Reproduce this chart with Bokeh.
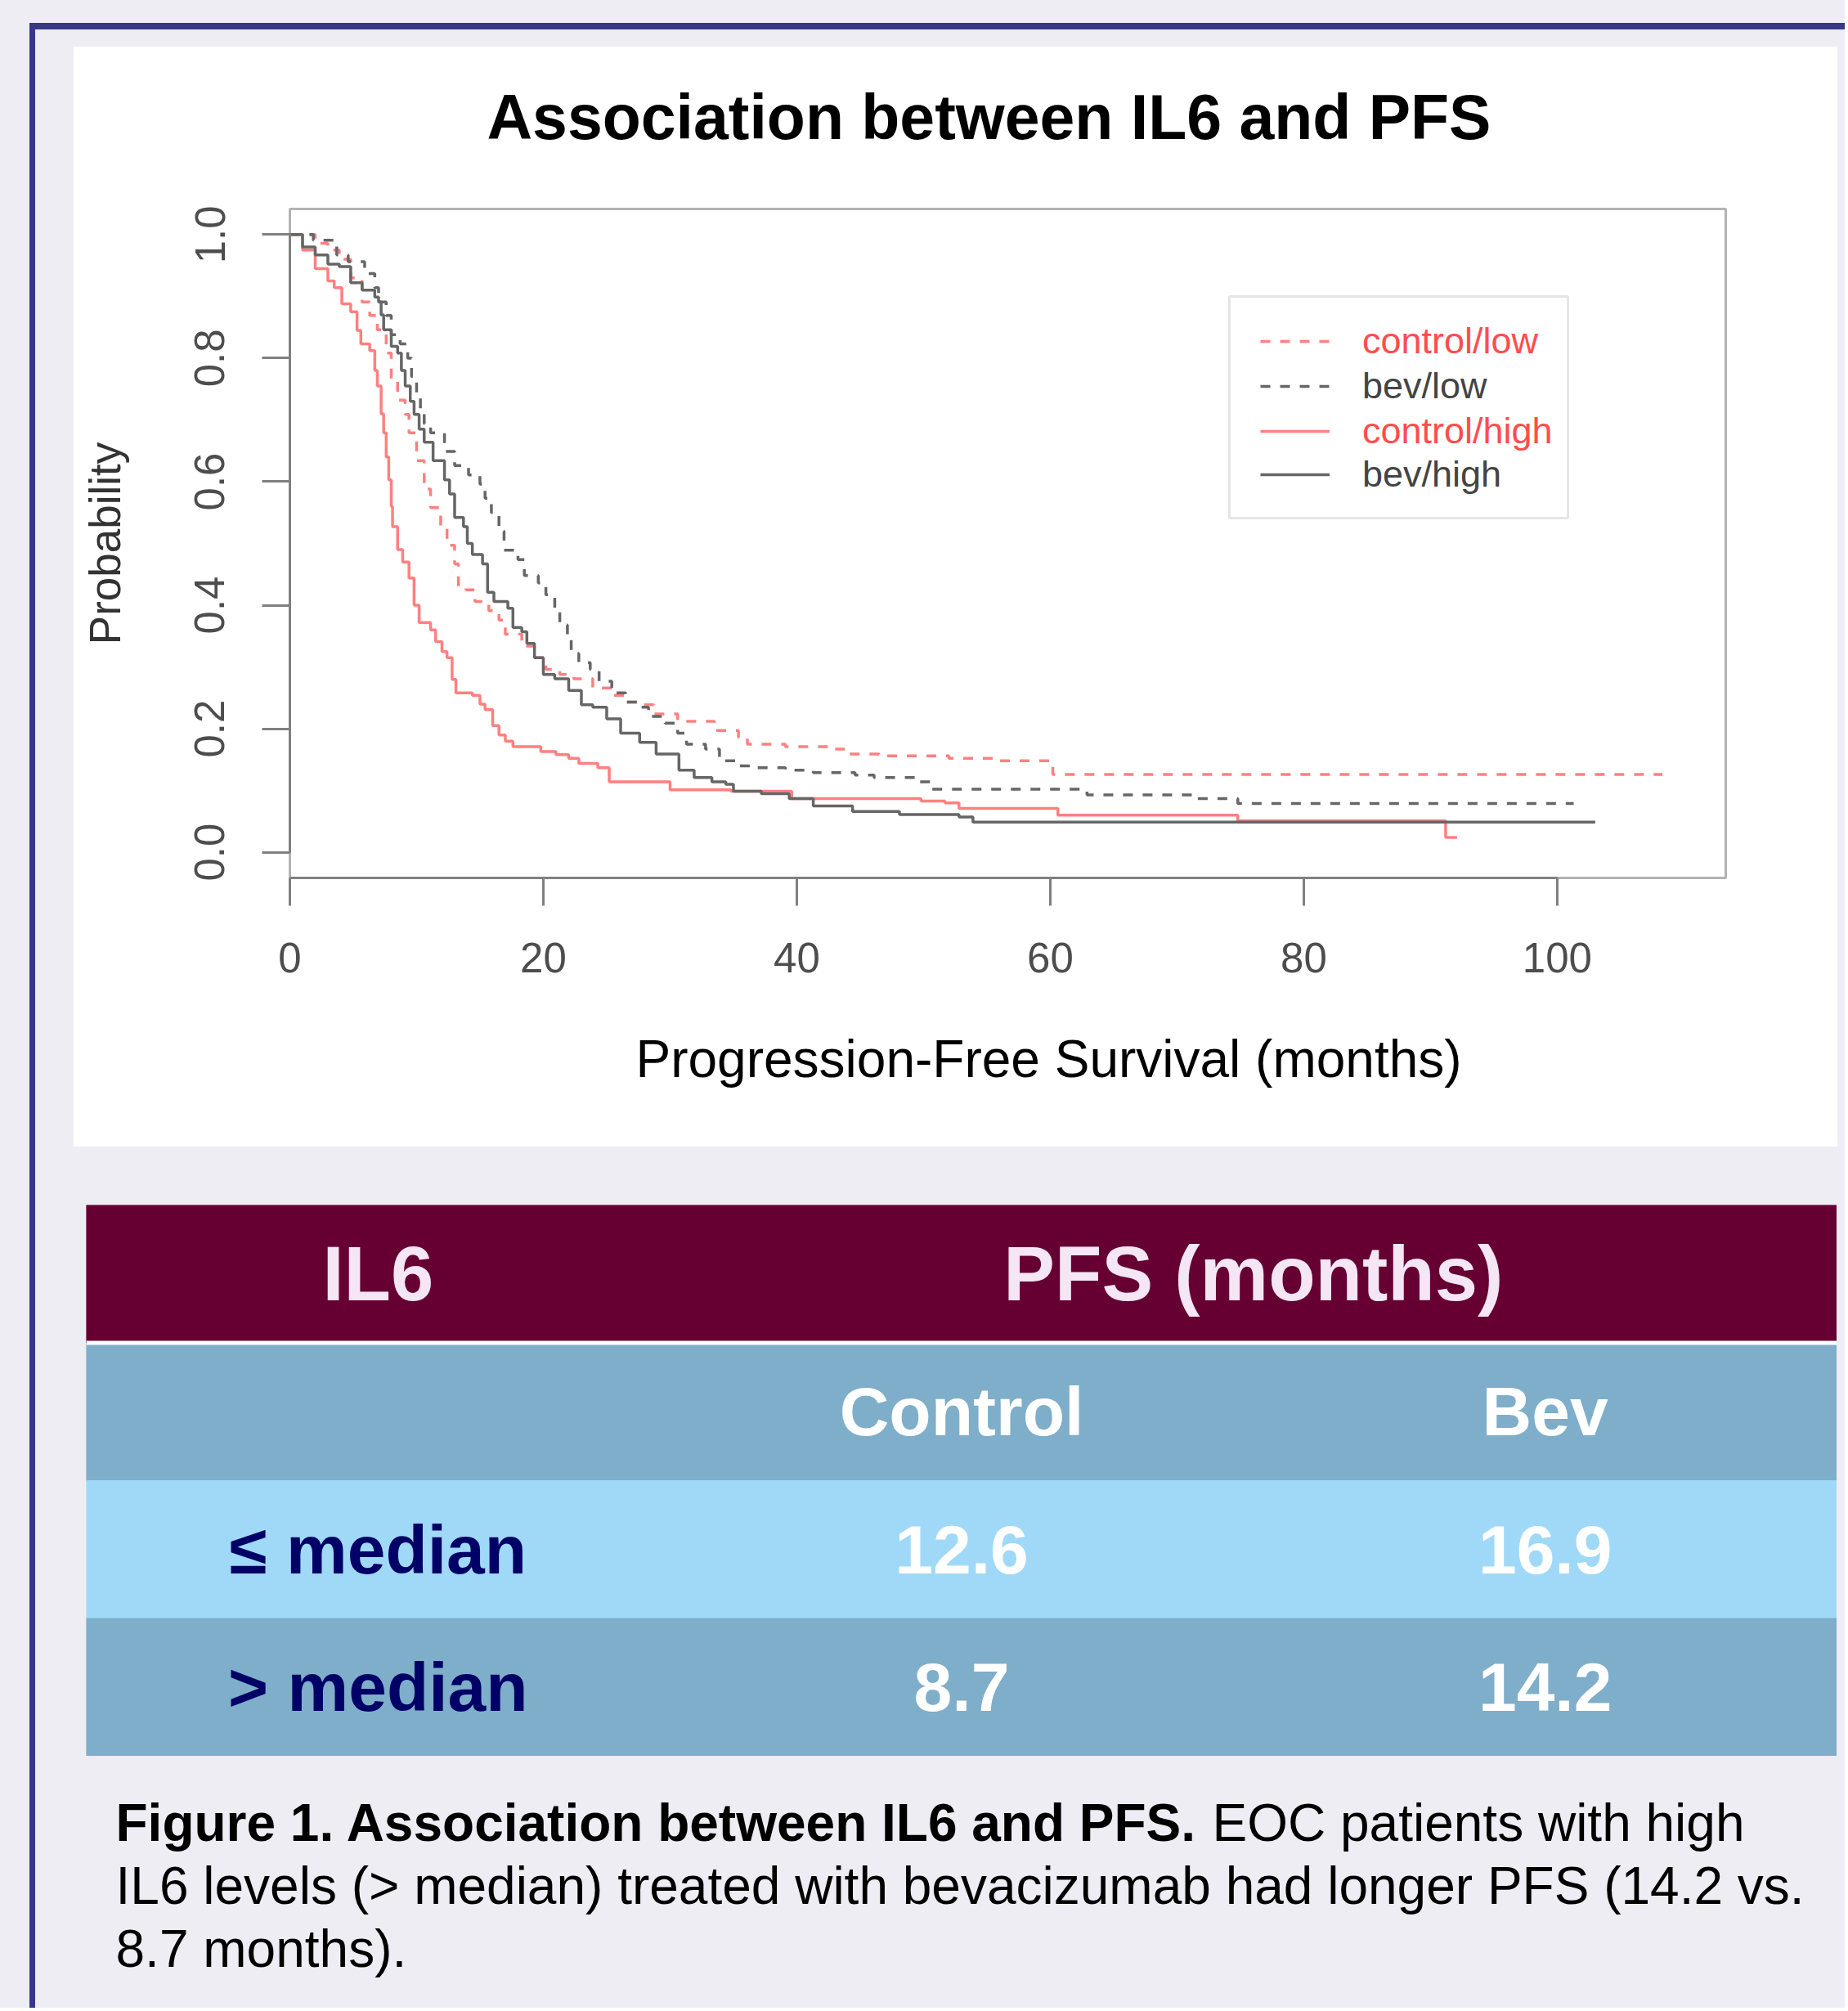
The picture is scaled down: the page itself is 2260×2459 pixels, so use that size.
from bokeh.plotting import figure
from bokeh.models import (Range1d, FixedTicker, Legend, LegendItem, BoxAnnotation, Title,
                          Spacer, ColumnDataSource, NumeralTickFormatter)
from bokeh.layouts import column, row
from bokeh.embed import file_html
from bokeh.resources import INLINE
from bokeh.core.properties import value

# ------------------------------------------------------------------ data
title_text = "Association between IL6 and PFS"
x_label = "Progression-Free Survival (months)"
y_label = "Probability"
x_ticks = [0, 20, 40, 60, 80, 100]
y_ticks = [0.0, 0.2, 0.4, 0.6, 0.8, 1.0]

series_names = ["control/low", "bev/low", "control/high", "bev/high"]

control_low_t = [0, 2.0, 3.0, 3.9, 4.8, 5.7, 6.3, 6.9, 7.6, 8.0, 8.5, 9.1, 9.4, 10.0, 10.6,
                 11.1, 11.9, 12.4, 13.0, 13.3, 13.9, 14.6, 15.7, 16.5, 17.0, 18.3, 19.3,
                 20.2, 21.3, 22.4, 23.9, 25.4, 26.5, 27.6, 28.7, 30.6, 33.5, 35.4, 36.1,
                 39.1, 42.8, 43.9, 46.5, 52.0, 55.7, 60.2, 108.3]
control_low_s = [1.0, 0.986, 0.975, 0.960, 0.930, 0.891, 0.869, 0.846, 0.808, 0.762, 0.732,
                 0.709, 0.679, 0.634, 0.588, 0.558, 0.527, 0.497, 0.467, 0.429, 0.425, 0.406,
                 0.391, 0.376, 0.353, 0.334, 0.315, 0.296, 0.288, 0.281, 0.266, 0.254, 0.243,
                 0.239, 0.224, 0.212, 0.197, 0.186, 0.175, 0.171, 0.167, 0.159, 0.156, 0.152,
                 0.148, 0.126, 0.126]

bev_low_t = [0, 1.85, 3.7, 4.6, 5.9, 6.7, 7.0, 7.6, 8.0, 8.7, 9.3, 9.6, 10.0, 10.3, 10.6,
             11.1, 12.2, 13.0, 14.1, 15.0, 15.4, 15.9, 16.5, 16.9, 18.0, 18.5, 19.6, 20.2,
             20.9, 21.3, 21.9, 22.2, 22.8, 23.7, 24.4, 25.4, 26.5, 27.6, 28.3, 29.6, 30.6,
             31.3, 32.8, 33.9, 35.4, 36.9, 39.1, 41.3, 44.6, 46.1, 49.4, 50.6, 62.9, 71.3,
             74.8, 101.3]
bev_low_s = [1.0, 0.991, 0.967, 0.956, 0.937, 0.914, 0.891, 0.869, 0.838, 0.823, 0.800,
             0.770, 0.740, 0.715, 0.694, 0.679, 0.649, 0.626, 0.611, 0.596, 0.573, 0.550,
             0.520, 0.489, 0.474, 0.448, 0.436, 0.417, 0.391, 0.368, 0.345, 0.322, 0.307,
             0.296, 0.277, 0.258, 0.243, 0.235, 0.220, 0.209, 0.193, 0.175, 0.167, 0.148,
             0.140, 0.137, 0.133, 0.129, 0.125, 0.121, 0.114, 0.102, 0.093, 0.087, 0.079,
             0.079]

control_high_t = [0, 1.0, 2.0, 3.0, 3.5, 4.1, 4.8, 5.3, 5.6, 6.3, 6.7, 6.9, 7.2, 7.4, 7.6,
                  7.8, 8.0, 8.1, 8.5, 8.9, 9.4, 9.8, 10.2, 11.1, 11.5, 12.0, 12.4, 12.8,
                  13.1, 14.4, 15.0, 15.4, 16.0, 16.5, 17.0, 17.6, 19.8, 21.0, 22.0, 22.8,
                  24.3, 25.2, 30.0, 34.8, 39.6, 49.8, 51.7, 52.8, 60.6, 74.8, 91.2, 92.1]
control_high_s = [1.0, 0.975, 0.945, 0.925, 0.914, 0.888, 0.875, 0.845, 0.823, 0.812, 0.780,
                  0.755, 0.710, 0.679, 0.640, 0.603, 0.560, 0.527, 0.490, 0.470, 0.444,
                  0.400, 0.372, 0.360, 0.341, 0.325, 0.315, 0.280, 0.258, 0.254, 0.240,
                  0.231, 0.205, 0.190, 0.180, 0.171, 0.163, 0.158, 0.152, 0.144, 0.137,
                  0.114, 0.101, 0.099, 0.087, 0.083, 0.080, 0.071, 0.060, 0.051, 0.024, 0.024]

bev_high_t = [0, 1.0, 2.0, 3.0, 3.9, 4.8, 5.7, 6.7, 7.0, 7.2, 7.4, 8.0, 8.5, 8.8, 9.1, 9.5,
              9.8, 10.2, 10.6, 11.3, 12.2, 12.6, 13.0, 13.7, 14.0, 14.4, 15.2, 15.6, 16.1,
              17.2, 17.6, 18.3, 18.7, 19.3, 20.0, 20.9, 22.0, 23.0, 23.9, 25.0, 26.1, 27.6,
              28.9, 30.7, 31.9, 33.3, 34.4, 35.0, 37.2, 39.4, 41.3, 44.4, 48.1, 52.8, 53.9,
              103.0]
bev_high_s = [1.0, 0.980, 0.967, 0.952, 0.948, 0.922, 0.910, 0.899, 0.891, 0.870, 0.846,
              0.819, 0.808, 0.780, 0.755, 0.730, 0.709, 0.685, 0.664, 0.634, 0.603, 0.580,
              0.542, 0.527, 0.500, 0.482, 0.467, 0.421, 0.406, 0.395, 0.364, 0.357, 0.338,
              0.315, 0.288, 0.281, 0.262, 0.239, 0.235, 0.216, 0.193, 0.178, 0.159, 0.133,
              0.121, 0.114, 0.110, 0.099, 0.095, 0.087, 0.075, 0.066, 0.061, 0.057, 0.049,
              0.049]

table_header = ["IL6", "PFS (months)"]
table_groups = ["Control", "Bev"]
table_row_labels = ["\u2264 median", "> median"]
pfs_control = [12.6, 8.7]
pfs_bev = [16.9, 14.2]

caption_bold = "Figure 1. Association between IL6 and PFS."
caption_lines = ["EOC patients with high",
                 "IL6 levels (> median) treated with bevacizumab had longer PFS (14.2 vs.",
                 "8.7 months)."]

# ------------------------------------------------------------------ styles
FONT = "Liberation Sans"
LAV = "#eeedf4"
BLUE = "#383886"
RED_LINE = "#ff8080"
GRAY_LINE = "#666666"
RED_TEXT = "#ff4d4d"
GRAY_TEXT = "#444444"
MAROON = "#660033"
STEEL = "#7eaec9"
LIGHT = "#a0d9f8"
NAVY = "#000066"

PANEL_W = 2157
TITLE_H = 190

# ------------------------------------------------------------------ title strip (white)
# (its frame is aligned with the KM frame below, so the offset is from that frame's left)
tf = figure(width=PANEL_W, height=TITLE_H, output_backend="svg", toolbar_location=None,
            title=Title(text=title_text, align="left", offset=241, standoff=81,
                        text_font=FONT, text_font_size="77px", text_font_style="bold",
                        text_color="black"),
            x_range=Range1d(0, 1), y_range=Range1d(0, 1), min_border=0,
            x_axis_location=None, y_axis_location=None, outline_line_color=None,
            background_fill_color="white", border_fill_color="white")
tf.grid.visible = False

# ------------------------------------------------------------------ KM plot
km = figure(width=PANEL_W, height=1345 - TITLE_H, output_backend="svg",
            toolbar_location=None,
            x_range=Range1d(0, 113.3), y_range=Range1d(-0.0415, 1.0415),
            min_border_left=264, min_border_right=137, min_border_top=198 - TITLE_H,
            min_border_bottom=329, background_fill_color="white",
            border_fill_color="white", outline_line_color="#b3b3b3",
            outline_line_width=3)
km.grid.visible = False

series = [
    (control_low_t, control_low_s, RED_LINE, "12 12", RED_TEXT),
    (bev_low_t, bev_low_s, GRAY_LINE, "12 12", GRAY_TEXT),
    (control_high_t, control_high_s, RED_LINE, "solid", RED_TEXT),
    (bev_high_t, bev_high_s, GRAY_LINE, "solid", GRAY_TEXT),
]
renderers = []
for t, s, col, dash, _ in series:
    src = ColumnDataSource(dict(t=t, s=s))
    r = km.step(x="t", y="s", source=src, mode="after", line_color=col,
                line_width=3.5, line_dash=dash)
    renderers.append(r)

for ax in (km.xaxis[0], km.yaxis[0]):
    ax.axis_line_color = "#808080"
    ax.axis_line_width = 3
    ax.major_tick_line_color = "#808080"
    ax.major_tick_line_width = 3
    ax.major_tick_out = 34
    ax.major_tick_in = 0
    ax.minor_tick_line_color = None
    ax.major_label_text_font = FONT
    ax.major_label_text_font_size = "51px"
    ax.major_label_text_color = "#4d4d4d"

km.xaxis.ticker = FixedTicker(ticks=x_ticks)
km.xaxis.bounds = (0, 100)
km.xaxis.major_label_standoff = 45

km.yaxis.ticker = FixedTicker(ticks=y_ticks)
km.yaxis.bounds = (0, 1)
km.yaxis.formatter = NumeralTickFormatter(format="0.0")
km.yaxis.major_label_orientation = "parallel"
km.yaxis.major_label_standoff = 46
km.yaxis.axis_label = y_label
km.yaxis.axis_label_text_font = FONT
km.yaxis.axis_label_text_font_size = "53px"
km.yaxis.axis_label_text_font_style = "normal"
km.yaxis.axis_label_text_color = "#333333"
km.yaxis.axis_label_standoff = 78

km.add_layout(Title(text=x_label, align="left", offset=423, standoff=134,
                    vertical_align="top", text_font=FONT, text_font_size="64px",
                    text_font_style="normal", text_color="black"), "below")

# legend: frame around + one entry per line (each with its own text colour)
km.add_layout(BoxAnnotation(left=74.13, right=100.85, bottom=0.541, top=0.900,
                            fill_alpha=0, line_color="#aaaaaa", line_width=3))
row_centers = [656, 601, 546, 493]
for i, name in enumerate(series_names):
    leg = Legend(items=[LegendItem(label=name, renderers=[renderers[i]])],
                 location=(1187, row_centers[i] - 28), padding=0, margin=0, spacing=0,
                 glyph_width=85, glyph_height=56, label_height=56, label_standoff=40,
                 label_text_font=FONT, label_text_font_size="45px",
                 label_text_color=series[i][4], border_line_alpha=0,
                 background_fill_alpha=0)
    km.add_layout(leg)

# ------------------------------------------------------------------ table
tb = figure(width=2141, height=674, output_backend="svg", toolbar_location=None,
            x_range=Range1d(0, 3), y_range=Range1d(4, 0), min_border=0,
            x_axis_location=None, y_axis_location=None, outline_line_color=None,
            background_fill_color=LAV, border_fill_color=LAV)
tb.grid.visible = False
band_colors = [MAROON, STEEL, LIGHT, STEEL]
tb.hbar(y=[i + 0.5 for i in range(4)], left=0, right=3, height=1, color=band_colors)
tb.segment(x0=[0], y0=[1], x1=[3], y1=[1], line_color="white", line_width=5)

tb.text(x=[0.5, 2.0], y=[0.5, 0.5], text=table_header, text_font=value(FONT),
        text_font_size=value("94px"), text_font_style="bold", text_color="#f4e6f4",
        text_align="center", text_baseline="middle")
tb.text(x=[1.5, 2.5], y=[1.5, 1.5], text=table_groups, text_font=value(FONT),
        text_font_size=value("84px"), text_font_style="bold", text_color="white",
        text_align="center", text_baseline="middle")
tb.text(x=[0.5, 0.5], y=[2.5, 3.5], text=table_row_labels, text_font=value(FONT),
        text_font_size=value("84px"), text_font_style="bold", text_color=NAVY,
        text_align="center", text_baseline="middle")
cell_x, cell_y, cell_txt = [], [], []
for i in range(len(table_row_labels)):
    for j, vals in enumerate([pfs_control, pfs_bev]):
        cell_x.append(1.5 + j)
        cell_y.append(2.5 + i)
        cell_txt.append(f"{vals[i]:.1f}")
tb.text(x=cell_x, y=cell_y, text=cell_txt, text_font=value(FONT),
        text_font_size=value("84px"), text_font_style="bold", text_color="white",
        text_align="center", text_baseline="middle")

# ------------------------------------------------------------------ caption
CW, CH = 2213, 308
cp = figure(width=CW, height=CH, output_backend="svg", toolbar_location=None,
            x_range=Range1d(0, CW), y_range=Range1d(CH, 0), min_border=0,
            x_axis_location=None, y_axis_location=None, outline_line_color=None,
            background_fill_color=LAV, border_fill_color=LAV)
cp.grid.visible = False
cp.text(x=[98], y=[81], text=[caption_bold], text_font=value(FONT),
        text_font_size=value("64px"), text_font_style="bold", text_color="black",
        text_align="left", text_baseline="middle")
cp.text(x=[1439, 98, 98], y=[81, 158, 235], text=caption_lines, text_font=value(FONT),
        text_font_size=value("64px"), text_color="black",
        text_align="left", text_baseline="middle")

# ------------------------------------------------------------------ page layout
def sp(w, h, color=LAV):
    return Spacer(width=w, height=h, styles={"background-color": color})

content = column(
    sp(CW, 21),
    row(sp(47, 1345), column(tf, km, styles={"background-color": "white"}), sp(9, 1345)),
    sp(CW, 71),
    row(sp(62, 674), tb, sp(10, 674)),
    cp,
)
page = column(
    sp(2256, 28),
    row(sp(36, 8), sp(2220, 8, BLUE)),
    row(sp(36, 2419), sp(7, 2419, BLUE), content),
    styles={"background-color": LAV},
)

open("out.html", "w").write(file_html(page, INLINE))
